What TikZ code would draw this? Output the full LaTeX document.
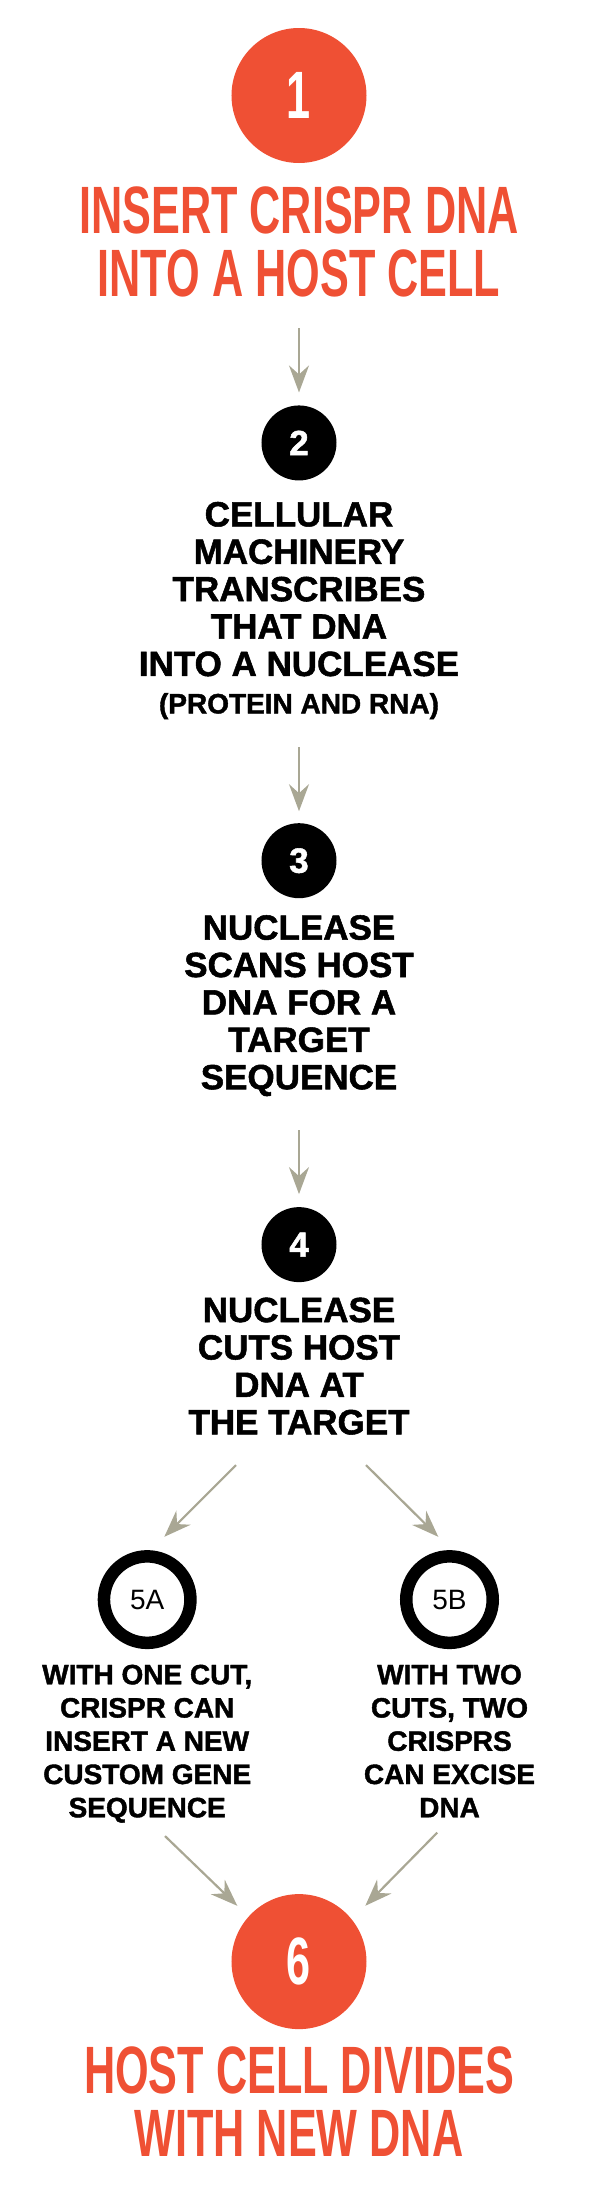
\documentclass[tikz,border=0pt]{standalone}
\usepackage{fontspec}
\setmainfont{Liberation Sans}
\newfontfamily\headfont[FakeStretch=0.645]{Liberation Sans}
\newfontfamily\stepfont[FakeStretch=1.0, FakeBold=1.5]{Liberation Sans}
\usetikzlibrary{arrows.meta, positioning}
\definecolor{crisprred}{RGB}{239,80,52}
\definecolor{arrowgray}{RGB}{169,167,148}
\tikzstyle{arrow} = [line width=2.2pt, draw=arrowgray, -{Stealth[length=27pt, width=20pt, inset=9pt]}]

\begin{document}
\begin{tikzpicture}[x=1pt, y=1pt, node distance=20pt,
    bignum/.style={circle, fill=crisprred, minimum size=135pt, inner sep=0pt, outer sep=0pt, text=white, font=\headfont\bfseries\fontsize{67}{67}\selectfont},
    headline/.style={text=crisprred, align=center, inner sep=0pt, outer sep=0pt, font=\headfont\bfseries\fontsize{67}{63}\selectfont},
    stepnum/.style={circle, fill=black, minimum size=75pt, inner sep=0pt, outer sep=0pt, text=white, font=\stepfont\bfseries\fontsize{35}{35}\selectfont},
    steptext/.style={align=center, inner sep=0pt, outer sep=0pt, font=\stepfont\bfseries\fontsize{35}{37.4}\selectfont},
    ring/.style={circle, draw=black, line width=12.5pt, minimum size=86.5pt, inner sep=0pt, outer sep=0pt, font=\fontsize{28}{28}\selectfont},
    branchtext/.style={align=center, inner sep=0pt, outer sep=0pt, font=\stepfont\bfseries\fontsize{28}{33.25}\selectfont}]

\useasboundingbox (-299,95.5) rectangle (315,-2097.5);

% Step 1
\node[bignum] (one) at (0,0) {1};
\node[headline, below=24pt of one] (title1) {INSERT CRISPR DNA\\INTO A HOST CELL};

% Step 2
\node[stepnum, below=108pt of title1] (two) {2};
\node[steptext, below=21.5pt of two] (text2) {CELLULAR\\MACHINERY\\TRANSCRIBES\\THAT DNA\\INTO A NUCLEASE\\{\fontsize{28}{37.4}\selectfont (PROTEIN AND RNA)}};

% Step 3
\node[stepnum, below=104pt of text2] (three) {3};
\node[steptext, below=17pt of three] (text3) {NUCLEASE\\SCANS HOST\\DNA FOR A\\TARGET\\SEQUENCE};

% Step 4
\node[stepnum, below=111pt of text3] (four) {4};
\node[steptext, below=15.5pt of four] (text4) {NUCLEASE\\CUTS HOST\\DNA AT\\THE TARGET};

% Branches 5A and 5B
\node[ring, below=121.75pt of text4, xshift=-151.8pt] (fivea) {5A};
\node[ring, below=121.75pt of text4, xshift=150.5pt] (fiveb) {5B};
\node[branchtext, below=21.85pt of fivea] (text5a) {WITH ONE CUT,\\CRISPR CAN\\INSERT A NEW\\CUSTOM GENE\\SEQUENCE};
\node[branchtext, below=21.85pt of fiveb] (text5b) {WITH TWO\\CUTS, TWO\\CRISPRS\\CAN EXCISE\\DNA};

% Step 6
\node[bignum, below=459.5pt of text4] (six) {6};
\node[headline, below=18pt of six] (title6) {HOST CELL DIVIDES\\WITH NEW DNA};

% Arrows
\draw[arrow, shorten <=31pt, shorten >=13pt] (title1) -- (two);
\draw[arrow, shorten <=28pt, shorten >=12pt] (text2) -- (three);
\draw[arrow, shorten <=34pt, shorten >=13pt] (text3) -- (four);
\draw[arrow] ([shift={(-63pt,-30.5pt)}]text4.south) -- ([shift={(17.1pt,62.8pt)}]fivea.center);
\draw[arrow] ([shift={(67pt,-30.5pt)}]text4.south) -- ([shift={(-11.2pt,62.8pt)}]fiveb.center);
\draw[arrow] ([shift={(17.8pt,-13.3pt)}]text5a.south) -- ([shift={(-61.7pt,55.8pt)}]six.center);
\draw[arrow] ([shift={(-12.2pt,-15.3pt)}]text5b.south) -- ([shift={(66.3pt,55.8pt)}]six.center);

\end{tikzpicture}
\end{document}
